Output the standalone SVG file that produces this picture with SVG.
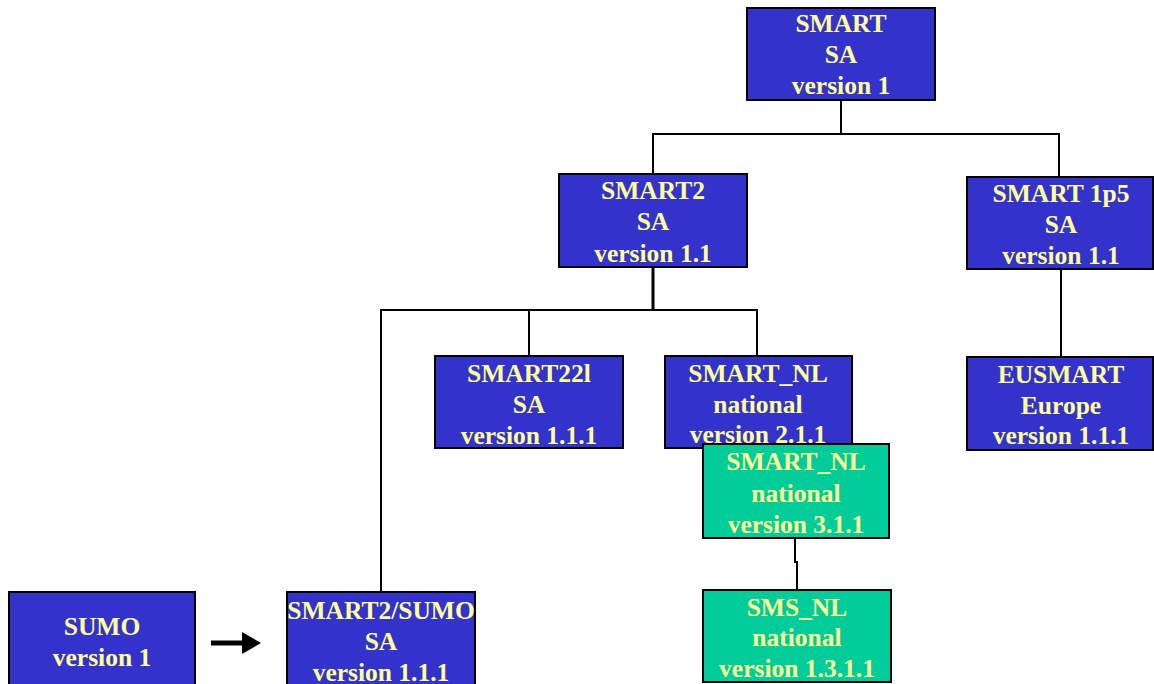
<svg xmlns="http://www.w3.org/2000/svg" width="1154" height="684" viewBox="0 0 1154 684">
<style>
.b{fill:#3333CC;stroke:#000;stroke-width:2}
.g{fill:#00CC99;stroke:#000;stroke-width:2}
text{font-family:"Liberation Serif","Times New Roman",serif;font-weight:bold;font-size:25.5px;fill:#FFFF99;text-anchor:middle}
.c{fill:none;stroke:#000;stroke-width:2}
</style>
<rect width="1154" height="684" fill="#fff"/>
<g id="connectors">
<polyline class="c" points="841,100 841,134"/>
<polyline class="c" points="653,174 653,134 1059,134 1059,177"/>
<polyline class="c" points="653,267 653,310" style="stroke-width:3"/>
<polyline class="c" points="381,592 381,310 757,310 757,356"/>
<polyline class="c" points="529,310 529,356"/>
<polyline class="c" points="1061,269 1061,357"/>
<polyline class="c" points="795,538 795,562 797,562 797,590"/>
<line x1="211" y1="643" x2="243" y2="643" stroke="#000" stroke-width="5"/>
<path d="M242,632 L261,643 L242,654 Z" fill="#000"/>
</g>
<g id="smart">
<rect class="b" x="747" y="8" width="188" height="92"/>
<text x="841" y="32">SMART</text><text x="841" y="63">SA</text><text x="841" y="94">version 1</text>
</g>
<g id="smart2">
<rect class="b" x="559" y="174" width="188" height="93"/>
<text x="653" y="199">SMART2</text><text x="653" y="230">SA</text><text x="653" y="262">version 1.1</text>
</g>
<g id="smart1p5">
<rect class="b" x="967" y="177" width="186" height="92"/>
<text x="1061" y="202">SMART 1p5</text><text x="1061" y="233">SA</text><text x="1061" y="264">version 1.1</text>
</g>
<g id="smart22l">
<rect class="b" x="435" y="356" width="188" height="92"/>
<text x="529" y="382">SMART22l</text><text x="529" y="413">SA</text><text x="529" y="444">version 1.1.1</text>
</g>
<g id="smart_nl_2">
<rect class="b" x="665" y="356" width="187" height="92"/>
<text x="758" y="382">SMART_NL</text><text x="758" y="413">national</text><text x="758" y="443">version 2.1.1</text>
</g>
<g id="eusmart">
<rect class="b" x="967" y="357" width="186" height="93"/>
<text x="1061" y="383">EUSMART</text><text x="1061" y="414">Europe</text><text x="1061" y="444">version 1.1.1</text>
</g>
<g id="smart_nl_3">
<rect class="g" x="703" y="444" width="186" height="94"/>
<text x="796" y="470">SMART_NL</text><text x="796" y="502">national</text><text x="796" y="533">version 3.1.1</text>
</g>
<g id="sms_nl">
<rect class="g" x="703" y="590" width="188" height="92"/>
<text x="797" y="616">SMS_NL</text><text x="797" y="646">national</text><text x="797" y="677">version 1.3.1.1</text>
</g>
<g id="sumo">
<rect class="b" x="9" y="592" width="186" height="100"/>
<text x="102" y="635">SUMO</text><text x="102" y="666">version 1</text>
</g>
<g id="smart2_sumo">
<rect class="b" x="287" y="592" width="188" height="100"/>
<text x="381" y="619">SMART2/SUMO</text><text x="381" y="650">SA</text><text x="381" y="681">version 1.1.1</text>
</g>
</svg>
